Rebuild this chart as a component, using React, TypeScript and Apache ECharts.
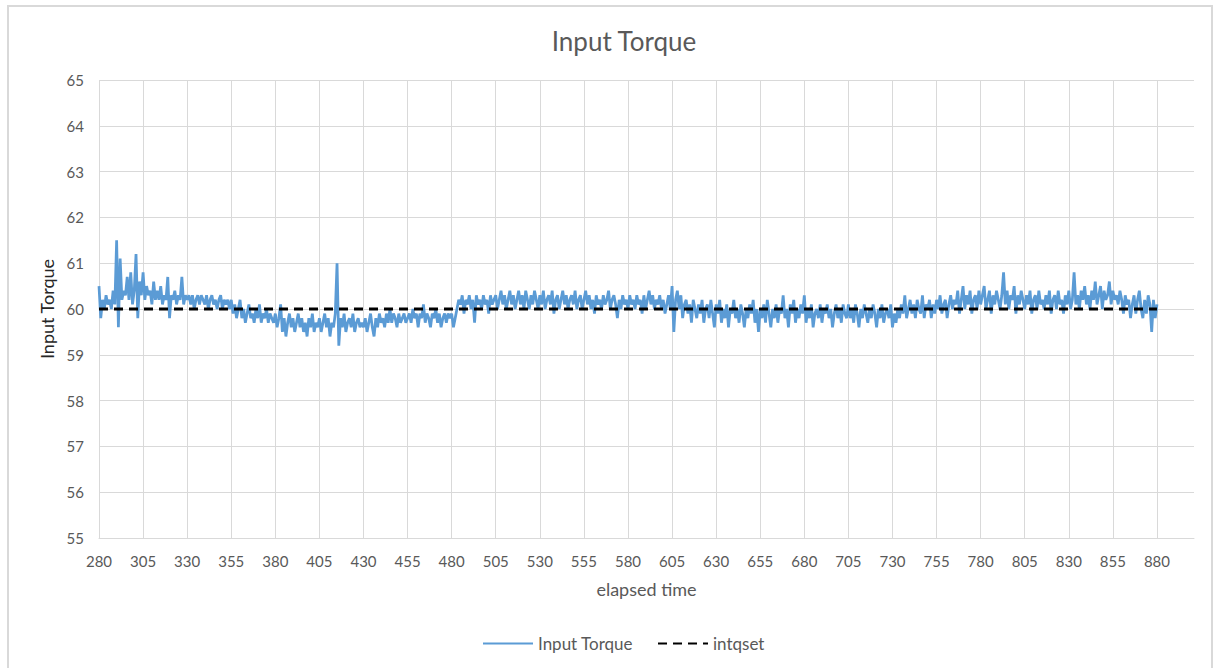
import React, { useEffect, useRef } from "react";
import * as echarts from "echarts";

const START_TIME = 280;
const AXIS_SPAN = 621;
const xTickLabels = [280, 305, 330, 355, 380, 405, 430, 455, 480, 505, 530, 555, 580, 605, 630, 655, 680, 705, 730, 755, 780, 805, 830, 855, 880];

// Input Torque, one reading per unit of elapsed time from 280 to 880
const torque280 = [60.5, 59.8, 60.2, 60.0, 60.3, 60.1, 60.2, 60.0, 60.4, 60.1, 61.5, 59.6, 61.1, 60.2, 60.4, 60.3, 60.7, 60.2, 60.8, 60.1, 60.4, 61.2, 59.8, 60.6, 60.3];
const torque305 = [60.8, 60.2, 60.5, 60.3, 60.4, 60.1, 60.6, 60.2, 60.4, 60.2, 60.5, 60.1, 60.3, 60.2, 60.7, 59.8, 60.3, 60.2, 60.4, 60.1, 60.3, 60.2, 60.7, 60.1, 60.3];
const torque330 = [60.2, 60.3, 60.1, 60.3, 60.0, 60.2, 60.3, 60.1, 60.3, 60.2, 60.1, 60.3, 60.0, 60.2, 60.3, 60.1, 60.2, 60.0, 60.2, 60.3, 60.0, 60.2, 60.1, 60.2, 60.0];
const torque355 = [60.2, 59.9, 60.1, 59.8, 60.0, 60.2, 59.8, 60.0, 59.7, 59.9, 60.1, 59.8, 59.9, 59.7, 60.0, 59.8, 60.1, 59.7, 59.9, 59.8, 60.0, 59.7, 59.9, 59.8, 59.7];
const torque380 = [59.9, 59.6, 59.8, 60.1, 59.5, 59.8, 59.4, 59.7, 59.9, 59.6, 59.8, 59.5, 59.7, 59.9, 59.6, 59.8, 59.5, 59.7, 59.4, 59.8, 59.6, 59.9, 59.5, 59.7, 59.6];
const torque405 = [59.8, 59.5, 59.7, 59.9, 59.6, 59.8, 59.4, 59.7, 59.6, 59.9, 61.0, 59.2, 59.8, 59.6, 59.9, 59.5, 59.7, 59.8, 59.6, 59.9, 59.5, 59.7, 59.8, 59.6, 59.7];
const torque430 = [59.6, 59.8, 59.5, 59.7, 59.9, 59.6, 59.4, 59.8, 59.6, 59.9, 59.7, 59.8, 59.6, 59.9, 59.7, 60.0, 59.7, 59.9, 59.8, 59.6, 59.9, 59.7, 59.8, 59.9, 59.7];
const torque455 = [59.8, 59.9, 59.7, 60.0, 59.8, 59.9, 59.6, 59.9, 59.8, 60.1, 59.7, 59.9, 59.8, 59.6, 59.9, 59.8, 60.0, 59.7, 59.9, 59.6, 59.8, 59.9, 59.7, 59.9, 59.8];
const torque480 = [59.9, 59.6, 59.8, 60.0, 60.2, 60.1, 60.3, 59.9, 60.2, 60.1, 60.3, 60.0, 60.2, 59.7, 60.3, 60.1, 60.2, 60.0, 60.3, 60.1, 60.2, 59.9, 60.3, 60.1, 60.2];
const torque505 = [60.3, 60.0, 60.2, 60.4, 60.1, 60.3, 60.0, 60.2, 60.4, 60.1, 60.3, 60.0, 60.2, 60.4, 60.1, 60.3, 60.0, 60.4, 60.2, 60.0, 60.3, 60.1, 60.4, 60.2, 60.0];
const torque530 = [60.3, 60.1, 60.4, 60.0, 60.2, 60.3, 60.1, 60.4, 59.9, 60.2, 60.3, 60.0, 60.2, 60.4, 60.1, 60.3, 60.0, 60.2, 60.3, 60.1, 60.4, 60.0, 60.2, 60.3, 60.0];
const torque555 = [60.2, 60.4, 60.1, 60.3, 60.0, 60.2, 59.9, 60.3, 60.1, 60.2, 60.0, 60.3, 60.1, 60.2, 60.4, 60.0, 60.2, 60.3, 60.1, 59.8, 60.2, 60.0, 60.3, 60.1, 60.2];
const torque580 = [60.0, 60.3, 60.1, 60.2, 60.0, 60.3, 60.1, 60.2, 59.9, 60.3, 60.0, 60.2, 60.4, 60.1, 60.3, 60.0, 60.2, 60.1, 60.3, 60.0, 60.2, 59.9, 60.1, 60.3, 60.0];
const torque605 = [60.5, 59.5, 60.2, 60.4, 60.0, 60.3, 59.8, 60.1, 60.2, 59.9, 60.1, 59.7, 60.2, 60.0, 59.8, 60.1, 59.9, 60.2, 59.7, 60.0, 60.1, 59.8, 60.2, 59.9, 59.6];
const torque630 = [60.1, 59.9, 60.2, 59.7, 60.0, 59.8, 60.1, 59.6, 60.0, 59.9, 60.2, 59.8, 60.0, 59.7, 60.1, 59.9, 59.6, 60.0, 59.8, 60.1, 59.9, 60.2, 59.7, 60.0, 59.5];
const torque655 = [60.0, 59.8, 60.1, 59.7, 60.2, 59.9, 59.6, 60.0, 59.8, 60.1, 59.7, 60.0, 59.9, 60.3, 59.8, 60.0, 59.6, 60.1, 59.9, 60.2, 59.7, 60.0, 59.8, 60.1, 59.9];
const torque680 = [60.3, 59.7, 60.0, 59.8, 60.1, 59.6, 59.9, 60.0, 59.8, 60.1, 59.7, 60.0, 59.9, 60.1, 59.8, 60.0, 59.6, 59.9, 60.1, 59.8, 60.0, 59.7, 60.1, 59.9, 59.8];
const torque705 = [60.1, 59.8, 60.0, 59.7, 60.1, 59.9, 59.6, 60.0, 59.8, 60.1, 59.9, 59.7, 60.0, 59.8, 60.1, 59.9, 59.6, 60.0, 59.8, 60.1, 59.7, 59.9, 60.0, 59.8, 60.1];
const torque730 = [59.6, 59.9, 59.7, 60.0, 59.8, 60.1, 59.9, 60.3, 59.8, 60.0, 60.2, 59.9, 60.1, 59.8, 60.2, 60.0, 59.9, 60.3, 59.8, 60.1, 60.0, 60.2, 59.8, 60.1, 59.9];
const torque755 = [60.2, 60.0, 60.3, 59.9, 60.1, 60.2, 59.8, 60.1, 60.3, 60.0, 60.2, 60.1, 60.4, 59.9, 60.2, 60.5, 60.0, 60.3, 60.1, 60.4, 59.9, 60.2, 60.3, 60.0, 60.4];
const torque780 = [60.1, 60.3, 60.5, 60.0, 60.2, 60.4, 59.9, 60.3, 60.1, 60.4, 60.2, 60.0, 60.3, 60.8, 60.1, 60.4, 60.0, 60.3, 60.2, 60.5, 59.9, 60.3, 60.1, 60.4, 60.2];
const torque805 = [60.0, 60.3, 60.1, 60.4, 59.9, 60.2, 60.3, 60.0, 60.4, 60.1, 60.2, 60.0, 60.3, 60.1, 60.4, 59.9, 60.2, 60.3, 60.0, 60.4, 60.1, 60.2, 59.9, 60.3, 60.1];
const torque830 = [60.4, 60.0, 60.2, 60.8, 60.1, 60.3, 60.0, 60.4, 60.2, 60.5, 60.1, 60.3, 60.0, 60.4, 60.2, 60.6, 60.1, 60.3, 60.5, 60.0, 60.4, 60.2, 60.3, 60.6, 60.1];
const torque855 = [60.4, 60.2, 60.3, 60.1, 60.4, 60.2, 59.9, 60.3, 60.1, 60.2, 59.8, 60.1, 60.3, 59.9, 60.2, 60.4, 60.0, 59.8, 60.2, 59.9, 60.3, 60.1, 59.5, 60.2, 59.8];
const torque880 = [60.1];

const torqueValues = [
  ...torque280, ...torque305, ...torque330, ...torque355, ...torque380, ...torque405,
  ...torque430, ...torque455, ...torque480, ...torque505, ...torque530, ...torque555,
  ...torque580, ...torque605, ...torque630, ...torque655, ...torque680, ...torque705,
  ...torque730, ...torque755, ...torque780, ...torque805, ...torque830, ...torque855,
  ...torque880,
];

const intqsetTimes = [280, 880];
const intqsetValues = [60, 60];

const FONT = "Lato, 'Noto Sans', sans-serif";
const TEXT = "#595959";
const GRID = "#d9d9d9";

export default function App() {
  const ref = useRef<HTMLDivElement>(null);

  useEffect(() => {
    if (!ref.current) return;
    const chart = echarts.init(ref.current, undefined, { renderer: "svg" });

    const torqueData = torqueValues.map((v, i) => [i, v]);
    const intqsetData = intqsetTimes.map((t, i) => [t - START_TIME, intqsetValues[i]]);

    const splitColors: string[] = xTickLabels.map(() => GRID);
    splitColors.push("rgba(0,0,0,0)");

    chart.setOption({
      animation: false,
      backgroundColor: "#ffffff",
      textStyle: { fontFamily: FONT },
      title: {
        text: "Input Torque",
        left: 619,
        top: 23,
        textAlign: "center",
        textStyle: { fontFamily: FONT, fontSize: 26, fontWeight: "normal", color: TEXT },
      },
      graphic: [
        {
          type: "rect",
          shape: { x: 8, y: 6, width: 1204, height: 700 },
          style: { fill: "none", stroke: "#d9d9d9", lineWidth: 2 },
          silent: true,
          z: -10,
        },
      ],
      legend: {
        left: 477,
        top: 630,
        itemWidth: 50,
        itemHeight: 14,
        itemGap: 24,
        itemStyle: { opacity: 0 },
        textStyle: { fontFamily: FONT, fontSize: 17, color: TEXT },
        data: ["Input Torque", "intqset"],
      },
      grid: { left: 99, top: 80, right: 20, bottom: 130, containLabel: false },
      xAxis: {
        type: "value",
        min: 0,
        max: AXIS_SPAN,
        interval: 25,
        name: "elapsed time",
        nameLocation: "middle",
        nameGap: 42,
        nameTextStyle: { fontFamily: FONT, fontSize: 18, color: TEXT },
        axisLine: { show: true, lineStyle: { color: GRID, width: 1 } },
        axisTick: { show: false },
        axisLabel: {
          fontFamily: FONT,
          fontSize: 15,
          color: TEXT,
          margin: 15,
          showMaxLabel: false,
          formatter: (v: number) => (v % 25 === 0 ? String(v + START_TIME) : ""),
        },
        splitLine: { show: true, lineStyle: { color: splitColors, width: 1 } },
      },
      yAxis: {
        type: "value",
        min: 55,
        max: 65,
        interval: 1,
        name: "Input Torque",
        nameLocation: "middle",
        nameGap: 43,
        nameRotate: 90,
        nameTextStyle: { fontFamily: FONT, fontSize: 18, color: "#262626" },
        axisLine: { show: false },
        axisTick: { show: false },
        axisLabel: { fontFamily: FONT, fontSize: 15, color: TEXT, margin: 15 },
        splitLine: { show: true, lineStyle: { color: GRID, width: 1 } },
      },
      series: [
        {
          name: "Input Torque",
          type: "line",
          data: torqueData,
          symbol: "none",
          showSymbol: false,
          lineStyle: { color: "#5b9bd5", width: 2.75 },
          itemStyle: { color: "#5b9bd5" },
          z: 2,
        },
        {
          name: "intqset",
          type: "line",
          data: intqsetData,
          symbol: "none",
          showSymbol: false,
          lineStyle: { color: "#000000", width: 3, type: [9, 6] },
          itemStyle: { color: "#000000" },
          z: 3,
        },
      ],
    });

    return () => chart.dispose();
  }, []);

  return (
    <div
      ref={ref}
      style={{ position: "absolute", left: 0, top: 0, width: 1214, height: 668 }}
    />
  );
}
